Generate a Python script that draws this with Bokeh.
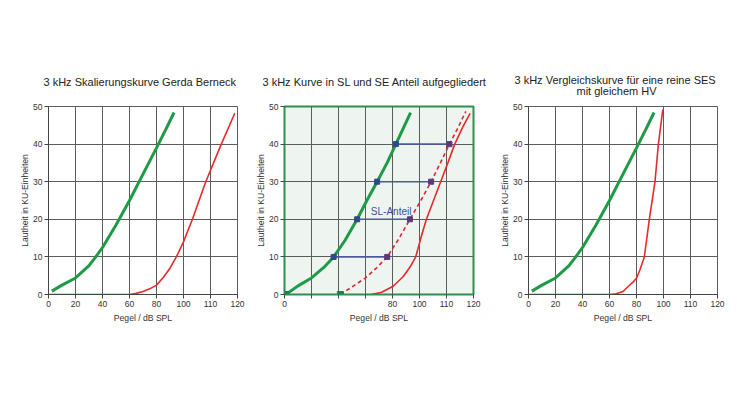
from bokeh.plotting import figure
from bokeh.layouts import row
from bokeh.models import Range1d, FixedTicker, Title
from bokeh.core.properties import value
from bokeh.embed import file_html
from bokeh.resources import INLINE

# x positions are grid units (one grid cell = 20); the tick labels of the original are non-linear
tick_pos = [0, 20, 40, 60, 80, 100, 120, 140]
tick_labels = ["0", "20", "40", "60", "80", "100", "110", "120"]
tick_labels_mid = ["0", "", "", "", "80", "100", "110", "120"]
y_ticks = [0, 10, 20, 30, 40, 50]

# Panel 1 / 3: green scaling curve
green_x = [2.5, 10, 20, 30, 35, 40, 50, 60, 70, 80, 87, 93]
green_y = [0.9, 2.5, 4.4, 7.7, 10, 12.5, 18.5, 25, 32, 39, 44, 48.4]

# Panel 1: red reference curve
red1_x = [0, 60, 65, 70, 75, 80, 85, 90, 94.7, 100, 106.6, 116.5, 128, 138]
red1_y = [0, 0, 0.3, 0.8, 1.5, 2.5, 4.5, 7, 10, 14, 20, 30, 40, 48.2]

# Panel 2: green, dashed SL-part, red solid
sl_green_x = [1, 10, 20, 30, 36.4, 45, 53.8, 61, 68.6, 76, 82.5, 93.4]
sl_green_y = [0, 2.3, 4.4, 7.5, 10, 14.5, 20, 25, 30, 35, 40, 48.4]
sl_dash_x = [41.4, 50, 60, 68, 76.1, 85, 92.9, 101, 108.6, 115.5, 122.2, 128, 134.3]
sl_dash_y = [0, 2, 4.4, 7, 10, 15, 20, 25, 30, 35, 40, 44, 48.7]
red2_x = [64.2, 72, 80.5, 88, 93, 97.2, 101, 105.1, 110.4, 115.7, 121, 126.1, 132, 137.5]
red2_y = [0, 0.6, 2.2, 4.8, 7.3, 10, 15, 20, 25, 30, 35, 40, 44.5, 48.2]
level_y = [10, 20, 30, 40]
level_green_x = [36.4, 53.8, 68.6, 82.5]
level_dash_x = [76.1, 92.9, 108.6, 122.2]
start_x = [1, 41.4]
start_y = [0, 0]
note_x = [79]
note_y = [22.2]
note_text = ["SL-Anteil"]

# Panel 3: red comparison curve
red3_x = [0, 60, 65, 70, 74, 78, 80.1, 82.5, 85.8, 89.5, 93.7, 96.2, 99.5]
red3_y = [0, 0, 0.2, 0.8, 2.2, 3.5, 4.4, 6.5, 10, 20, 30, 40, 49.2]

titles1 = ["3 kHz Skalierungskurve Gerda Berneck"]
titles2 = ["3 kHz Kurve in SL und SE Anteil aufgegliedert"]
titles3 = ["3 kHz Vergleichskurve für eine reine SES", "mit gleichem HV"]

FONT = "Liberation Sans"
GREEN = "#1f9a47"
RED = "#e52a2a"
GRID = "#5c5c5c"


def make_title(text, offset, standoff):
    return Title(text=text, align="left", text_font=FONT, text_font_size="11px",
                 text_font_style="normal", text_color="#222222",
                 offset=offset, standoff=standoff)


def make_fig(min_left, min_right, labels, bg="white", outline="#5c5c5c",
             outline_w=1, axis_col="#444444"):
    p = figure(frame_width=189, frame_height=188,
               x_range=Range1d(0, 140), y_range=Range1d(0, 50),
               output_backend="svg", toolbar_location=None, title=None,
               min_border_left=min_left, min_border_right=min_right,
               min_border_top=106, min_border_bottom=30,
               background_fill_color=bg, border_fill_color="white")
    p.outline_line_color = outline
    p.outline_line_width = outline_w
    p.xaxis.ticker = FixedTicker(ticks=tick_pos)
    p.xaxis.major_label_overrides = {t: l for t, l in zip(tick_pos, labels)}
    p.yaxis.ticker = FixedTicker(ticks=y_ticks)
    for ax in (p.xaxis[0], p.yaxis[0]):
        ax.axis_line_color = axis_col
        ax.major_tick_line_color = "#444444"
        ax.major_tick_out = 4
        ax.major_tick_in = 0
        ax.minor_tick_line_color = None
        ax.major_label_text_font = FONT
        ax.major_label_text_font_size = "8.5px"
        ax.major_label_text_color = "#333333"
        ax.major_label_standoff = 2
        ax.axis_label_text_font = FONT
        ax.axis_label_text_font_size = "8.6px"
        ax.axis_label_text_font_style = "normal"
        ax.axis_label_text_color = "#333333"
    p.xaxis.axis_label_standoff = 3
    p.yaxis.axis_label_standoff = 0
    p.xaxis.axis_label = "Pegel / dB SPL"
    p.yaxis.axis_label = "Lautheit in KU-Einheiten"
    p.xgrid.ticker = FixedTicker(ticks=tick_pos)
    p.ygrid.ticker = FixedTicker(ticks=y_ticks)
    p.grid.grid_line_color = GRID
    p.grid.grid_line_width = 1
    return p


p1 = make_fig(48, 10, tick_labels)
p1.add_layout(make_title(titles1[0], -5, 38), "above")
p1.line(red1_x, red1_y, line_color=RED, line_width=1.6)
p1.line(green_x, green_y, line_color=GREEN, line_width=3)

p2 = make_fig(37, 24, tick_labels_mid, bg="#eef4f0", outline="#2f8f4e", outline_w=2, axis_col="#2f8f4e")
p2.add_layout(make_title(titles2[0], -22, 38), "above")
p2.line(red2_x, red2_y, line_color=RED, line_width=1.6)
p2.line(sl_dash_x, sl_dash_y, line_color="#d42a35", line_width=1.6, line_dash="4 3")
p2.line(sl_green_x, sl_green_y, line_color=GREEN, line_width=3)
p2.segment(x0=level_green_x, y0=level_y, x1=level_dash_x, y1=level_y, line_color="#4a5aa8", line_width=1.5)
p2.scatter(level_green_x, level_y, marker="square", size=5, color="#2c4a8a")
p2.scatter(level_dash_x, level_y, marker="square", size=5, color="#5a3a78")
p2.scatter(start_x, start_y, marker="square", size=6, color="#1e7f52")
p2.text(x=note_x, y=note_y, text=note_text, text_font=value(FONT), text_font_size="10px",
        text_color="#3a4ea0", text_align="center", text_baseline="middle")

p3 = make_fig(30, 10, tick_labels)
p3.add_layout(Title(text=" ", text_font_size="1px", standoff=7), "above")
p3.add_layout(make_title(titles3[1], 48, 0), "above")
p3.add_layout(make_title(titles3[0], -14, -6), "above")
p3.line(red3_x, red3_y, line_color=RED, line_width=1.6)
p3.line(green_x, green_y, line_color=GREEN, line_width=3)

layout = row(p1, p2, p3, spacing=0)
open("out.html", "w").write(file_html(layout, INLINE))
